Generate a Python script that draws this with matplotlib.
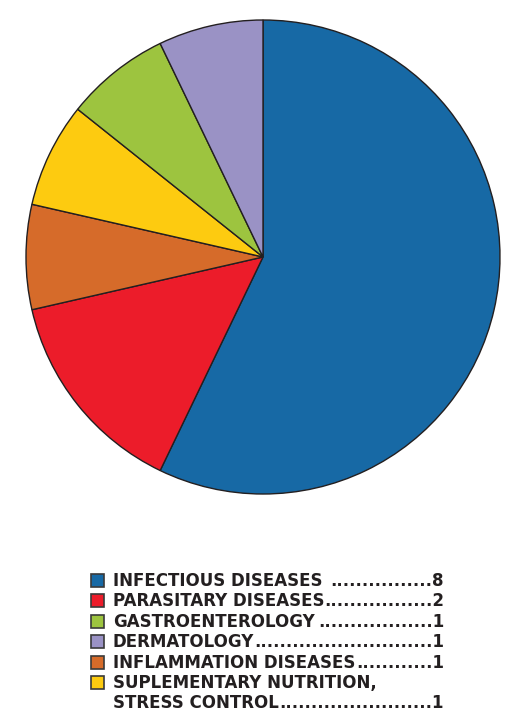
import matplotlib
matplotlib.use("Agg")
import matplotlib.pyplot as plt
from matplotlib.patches import Rectangle

plt.rcParams["font.family"] = ["DejaVu Sans"]
plt.rcParams["font.weight"] = "bold"

# slices, clockwise from 12 o'clock
slice_names = ["INFECTIOUS DISEASES", "PARASITARY DISEASES", "INFLAMMATION DISEASES",
               "SUPLEMENTARY NUTRITION, STRESS CONTROL", "GASTROENTEROLOGY", "DERMATOLOGY"]
slice_values = [8, 2, 1, 1, 1, 1]
slice_colors = ["#1769a5", "#ec1c2a", "#d66b2a", "#fdcb10", "#9dc43f", "#9a92c5"]

# legend rows (order as printed)
legend_labels = ["INFECTIOUS DISEASES ", "PARASITARY DISEASES", "GASTROENTEROLOGY",
                 "DERMATOLOGY", "INFLAMMATION DISEASES", "SUPLEMENTARY NUTRITION,\nSTRESS CONTROL"]
legend_values = ["8", "2", "1", "1", "1", "1"]
legend_colors = ["#1769a5", "#ec1c2a", "#9dc43f", "#9a92c5", "#d66b2a", "#fdcb10"]

W, H = 523, 724
fig = plt.figure(figsize=(W / 100, H / 100), dpi=100)

# pie: centre (263,257), radius 237 px
cx, cy, r = 263, 257, 237
ax = fig.add_axes([(cx - r) / W, (H - cy - r) / H, 2 * r / W, 2 * r / H])
ax.pie(slice_values, colors=slice_colors, startangle=90, counterclock=False,
       wedgeprops=dict(edgecolor="#231f20", linewidth=1.0))
ax.set_xlim(-1, 1)
ax.set_ylim(-1, 1)
ax.set_aspect("equal")
ax.axis("off")

# legend drawn by hand, pixel coords with y pointing down
lax = fig.add_axes([0, 0, 1, 1])
lax.set_xlim(0, W)
lax.set_ylim(H, 0)
lax.axis("off")

fs = 12
ink = "#231f20"
txt_x, end_x = 113, 444
base_y = 586
step = 20.4
fig.canvas.draw()
renderer = fig.canvas.get_renderer()

def text_w(s):
    t = lax.text(0, 0, s, fontsize=fs, fontweight="bold")
    w = t.get_window_extent(renderer).width
    t.remove()
    return w

dot_w = (text_w("." * 40) - text_w("." * 20)) / 20
y = base_y
for lab, val, col in zip(legend_labels, legend_values, legend_colors):
    lax.add_patch(Rectangle((91, y - 12), 13, 13, facecolor=col,
                            edgecolor="#3a3a3a", linewidth=1.2))
    lines = lab.split("\n")
    for i, line in enumerate(lines):
        lax.text(txt_x, y + i * step, line, fontsize=fs, fontweight="bold",
                 color=ink, va="baseline", ha="left")
    last = lines[-1]
    yy = y + (len(lines) - 1) * step
    n = round((end_x - txt_x - text_w(last + "|") + text_w("|") - text_w(val)) / dot_w)
    lax.text(end_x, yy, "." * n + val, fontsize=fs, fontweight="bold", color=ink,
             va="baseline", ha="right")
    y += step * len(lines)

fig.savefig("out.png", dpi=100)
